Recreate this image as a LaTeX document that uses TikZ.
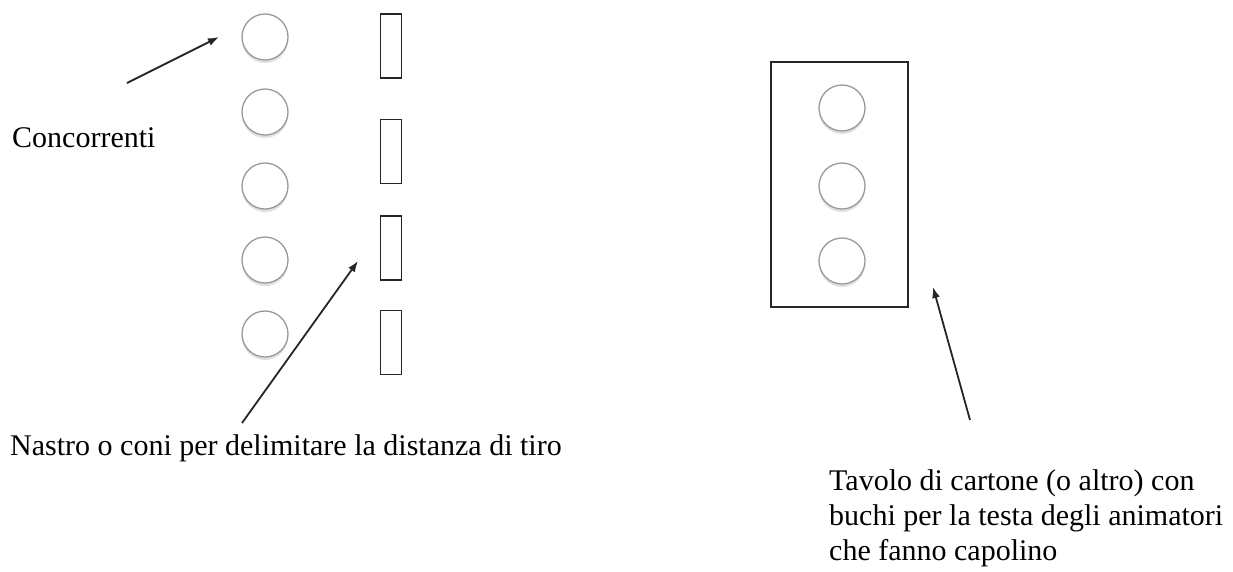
\documentclass[tikz,border=0pt]{standalone}
\usepackage{fontspec}
\setmainfont{Liberation Serif}
\usetikzlibrary{shadows,arrows.meta}
\begin{document}
\begin{tikzpicture}[x=1pt,y=-1pt,
  person/.style={circle,draw=black!40,line width=1.3pt,fill=white,minimum size=46pt,inner sep=0pt,
    drop shadow={shadow xshift=0pt,shadow yshift=-3pt,opacity=0.12,fill=black}},
  cone/.style={draw=black!85,line width=1.8pt,minimum width=21pt,minimum height=64pt,inner sep=0pt},
  table/.style={draw=black!85,line width=2pt,minimum width=137pt,minimum height=245pt,inner sep=0pt},
  lbl/.style={font=\fontsize{30}{35}\selectfont,inner sep=0pt,align=left},
  pointer/.style={draw=black!85,line width=1.8pt,-{Latex[length=11pt,width=8pt]}}]
\useasboundingbox (0,0) rectangle (1233,571);
% contestants
\node[person] (p1) at (265,37) {};
\node[person] (p2) at (265,112) {};
\node[person] (p3) at (265,186) {};
\node[person] (p4) at (265,260) {};
\node[person] (p5) at (265,334) {};
% cones
\node[cone] (c1) at (391,46) {};
\node[cone] (c2) at (391,151.5) {};
\node[cone] (c3) at (391,248) {};
\node[cone] (c4) at (391,342.5) {};
% table
\node[table] (t) at (839.5,184.5) {};
\node[person] (h1) at (842,108) {};
\node[person] (h2) at (842,186) {};
\node[person] (h3) at (842,261) {};
% labels
\node[lbl,anchor=base west] (lc) at (12,147) {Concorrenti};
\node[lbl,anchor=base west] (ln) at (10,455) {Nastro o coni per delimitare la distanza di tiro};
\node[lbl,anchor=base west] (lt) at (829,560) {Tavolo di cartone (o altro) con\\buchi per la testa degli animatori\\che fanno capolino};
% pointers
\coordinate (a1s) at (127,83);
\coordinate (a1e) at (219,37);
\coordinate (a2s) at (242,423);
\coordinate (a2e) at (358,261);
\coordinate (a3s) at (970,420);
\coordinate (a3e) at (933,287);
\draw[pointer] (a1s) -- (a1e);
\draw[pointer] (a2s) -- (a2e);
\draw[pointer] (a3s) -- (a3e);
\end{tikzpicture}
\end{document}
